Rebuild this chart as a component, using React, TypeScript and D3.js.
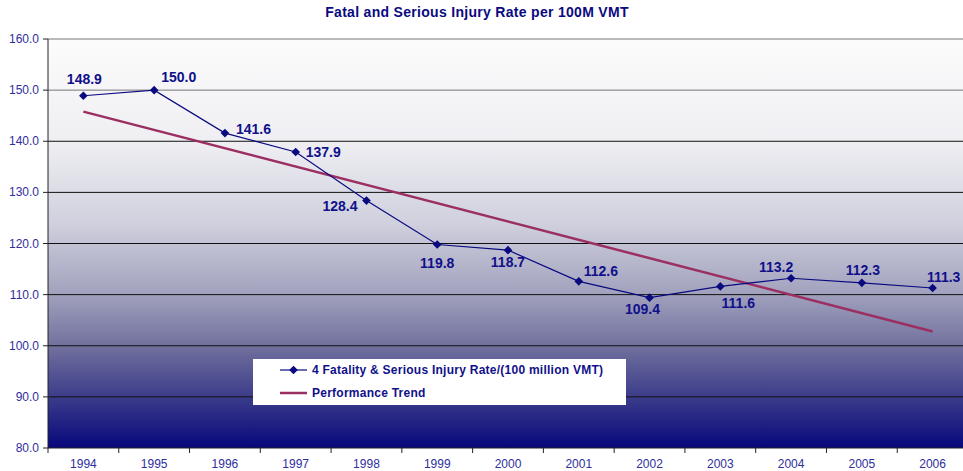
import * as d3 from 'd3';

const years = ['1994', '1995', '1996', '1997', '1998', '1999', '2000', '2001', '2002', '2003', '2004', '2005', '2006'];
const injuryRate = [148.9, 150.0, 141.6, 137.9, 128.4, 119.8, 118.7, 112.6, 109.4, 111.6, 113.2, 112.3, 111.3];
// straight trend line, start and end
const trendYears = ['1994', '2006'];
const trendValues = [145.8, 102.8];
const yTicks = [80, 90, 100, 110, 120, 130, 140, 150, 160];

// where each value label sits relative to its marker
const labelPos: [number, number, string][] = [
	[1, -12, 'middle'],
	[7, -8, 'start'],
	[11, 1, 'start'],
	[10, 5, 'start'],
	[-9, 10, 'end'],
	[0, 23, 'middle'],
	[0, 17, 'middle'],
	[5, -5, 'start'],
	[-7, 16, 'middle'],
	[18, 22, 'middle'],
	[-15, -6, 'middle'],
	[1, -8, 'middle'],
	[11, -6, 'middle'],
];

export default function App() {
	const width = 963;
	const height = 471;
	const margin = { top: 39, left: 48, bottom: 448 };
	const bandW = 70.77;

	const x = d3
		.scaleBand()
		.domain(years)
		.range([margin.left, margin.left + bandW * years.length])
		.padding(0);
	const cx = (yr: string) => (x(yr) as number) + x.bandwidth() / 2;

	const y = d3.scaleLinear().domain([80, 160]).range([margin.bottom, margin.top]);

	const dataLine = d3
		.line<number>()
		.x((_, i) => cx(years[i]))
		.y((d) => y(d))(injuryRate);

	const trendLine = d3
		.line<number>()
		.x((_, i) => cx(trendYears[i]))
		.y((d) => y(d))(trendValues);

	const diamond = d3.symbol().type(d3.symbolDiamond2).size(48)();

	const font = 'Arial, "Liberation Sans", sans-serif';
	const navy = '#10108a';
	const axisBlue = '#2e2e9c';

	return (
		<svg width={width} height={height} style={{ position: 'absolute', left: 0, top: 0 }} fontFamily={font}>
			<defs>
				<linearGradient id='bg' x1='0' y1='0' x2='0' y2='1'>
					<stop offset='0%' stopColor='#fcfcfc' />
					<stop offset='25%' stopColor='#efeff3' />
					<stop offset='45%' stopColor='#d0d0de' />
					<stop offset='62%' stopColor='#a2a2be' />
					<stop offset='75%' stopColor='#71719e' />
					<stop offset='88%' stopColor='#3a3a8a' />
					<stop offset='100%' stopColor='#07077c' />
				</linearGradient>
			</defs>
			<rect width={width} height={height} fill='#ffffff' />

			{/* plot background */}
			<rect
				x={margin.left}
				y={margin.top}
				width={width - margin.left}
				height={margin.bottom - margin.top}
				fill='url(#bg)'
			/>

			{/* gridlines */}
			{yTicks.slice(1).map((t) => (
				<line
					key={t}
					x1={margin.left}
					x2={width}
					y1={y(t)}
					y2={y(t)}
					stroke={t >= 150 ? '#777' : '#111'}
					strokeWidth={1}
				/>
			))}

			{/* title */}
			<text
				x={477}
				y={17}
				textAnchor='middle'
				fontSize={14}
				fontWeight='bold'
				letterSpacing={0.3}
				fill='#0a0a80'
			>
				Fatal and Serious Injury Rate per 100M VMT
			</text>

			{/* y axis */}
			<line x1={margin.left} x2={margin.left} y1={margin.top} y2={margin.bottom} stroke='#222' />
			{yTicks.map((t) => (
				<g key={t}>
					<line x1={margin.left - 5} x2={margin.left} y1={y(t)} y2={y(t)} stroke='#222' />
					<text x={39} y={y(t) + 4} textAnchor='end' fontSize={12} fill={axisBlue}>
						{t.toFixed(1)}
					</text>
				</g>
			))}

			{/* x axis */}
			<line x1={margin.left} x2={width} y1={margin.bottom} y2={margin.bottom} stroke='#222' />
			{years.map((yr) => (
				<g key={yr}>
					<line
						x1={x(yr) as number}
						x2={x(yr) as number}
						y1={margin.bottom}
						y2={margin.bottom + 5}
						stroke='#222'
					/>
					<text x={cx(yr)} y={468} textAnchor='middle' fontSize={12} fill={axisBlue}>
						{yr}
					</text>
				</g>
			))}

			{/* trend */}
			<path d={trendLine ?? ''} fill='none' stroke='#9b2f62' strokeWidth={2.5} />

			{/* rate line */}
			<path d={dataLine ?? ''} fill='none' stroke='#0a0a80' strokeWidth={1.2} />
			{injuryRate.map((v, i) => (
				<path key={i} d={diamond ?? ''} transform={`translate(${cx(years[i])},${y(v)})`} fill='#0a0a80' />
			))}

			{/* value labels */}
			{injuryRate.map((v, i) => (
				<text
					key={i}
					x={cx(years[i]) + labelPos[i][0]}
					y={y(v) + labelPos[i][1]}
					textAnchor={labelPos[i][2]}
					fontSize={14}
					fontWeight='bold'
					fill={navy}
				>
					{v.toFixed(1)}
				</text>
			))}

			{/* legend */}
			<rect x={253} y={359} width={373} height={46} fill='#ffffff' />
			<line x1={280} x2={307} y1={370} y2={370} stroke='#0a0a80' strokeWidth={1.2} />
			<path d={diamond ?? ''} transform='translate(293.5,370)' fill='#0a0a80' />
			<text x={312} y={374} fontSize={12} fontWeight='bold' letterSpacing={0.25} fill={navy}>
				4 Fatality &amp; Serious Injury Rate/(100 million VMT)
			</text>
			<line x1={280} x2={307} y1={393} y2={393} stroke='#9b2f62' strokeWidth={2.5} />
			<text x={312} y={397} fontSize={12} fontWeight='bold' letterSpacing={0.25} fill={navy}>
				Performance Trend
			</text>
		</svg>
	);
}
